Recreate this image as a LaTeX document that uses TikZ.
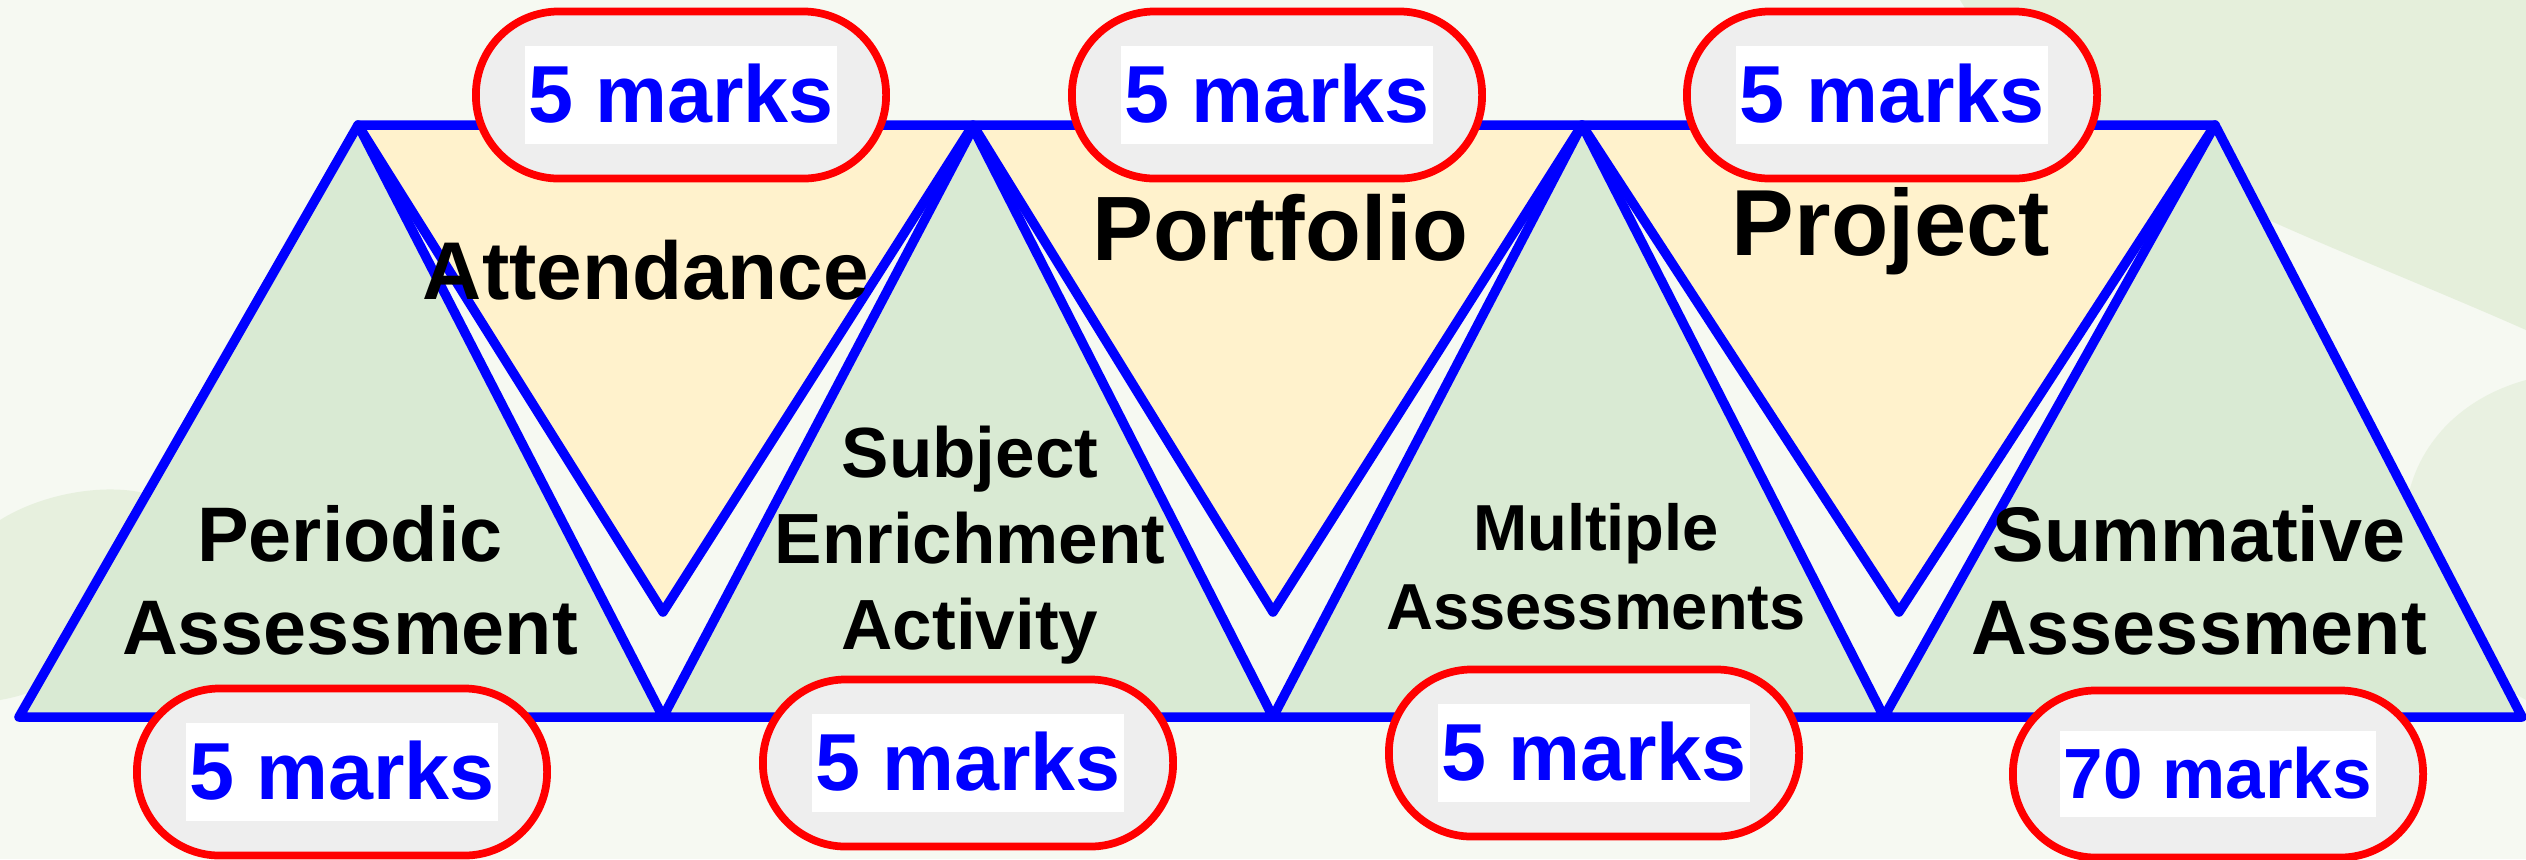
\documentclass[tikz,border=0pt]{standalone}
\usepackage{fontspec}
\setmainfont{Liberation Sans}
\usepackage{xcolor}
\usepackage{tikz}
\usetikzlibrary{calc}
\usetikzlibrary{positioning}

\definecolor{leafgreen}{HTML}{D9EAD3}
\definecolor{paleyellow}{HTML}{FFF2CC}
\definecolor{pillgray}{HTML}{EEEEEE}
\definecolor{bgwash}{HTML}{F6F9F2}
\definecolor{leafwash}{HTML}{E1EDD6}

\tikzset{
 uptri/.style={draw=blue, fill=leafgreen, line width=2.7pt, line join=round},
 downtri/.style={draw=blue, fill=paleyellow, line width=2.7pt, line join=round},
 markpill/.style={draw=red, fill=pillgray, line width=2.2pt, rounded corners=0.83cm,
   minimum width=4.1cm, minimum height=1.67cm, inner sep=0pt},
 part/.style={align=center, text=black}
}

\newcommand{\markbox}[2]{{\bfseries\fontsize{#1}{#1}\selectfont\setlength{\fboxsep}{1pt}%
 \colorbox{white}{\rule[-0.22em]{0pt}{1.12em}\textcolor{blue}{#2}}}}

\begin{document}
\begin{tikzpicture}[x=0.01cm, y=-0.01cm]
 \useasboundingbox (0,0) rectangle (2526,859);
 \fill [bgwash] (0,0) rectangle (2526,859);
 % faint leaves of the backdrop
 \fill [leafwash, opacity=0.8] (1960,0) .. controls (2050,150) and (2300,230) .. (2526,330) -- (2526,0) -- cycle;
 \fill [leafwash, opacity=0.6] (2526,380) .. controls (2380,420) and (2350,600) .. (2526,700) -- cycle;
 \fill [leafwash, opacity=0.7] (0,520) .. controls (80,470) and (220,480) .. (180,560) .. controls (140,640) and (60,690) .. (0,700) -- cycle;

 % corner points
 \coordinate (b0) at (19,717);
 \coordinate (b1) at (663,717);
 \coordinate (b2) at (1273,717);
 \coordinate (b3) at (1884,717);
 \coordinate (b4) at (2522,717);
 \coordinate (t1) at (358,125);
 \coordinate (t2) at (973,125);
 \coordinate (t3) at (1582,125);
 \coordinate (t4) at (2215,125);
 \coordinate (v1) at (663,612);
 \coordinate (v2) at (1273,612);
 \coordinate (v3) at (1899,612);

 % upward triangles
 \draw [uptri] (b0) -- (t1) -- (b1) -- cycle;
 \draw [uptri] (b1) -- ($(t2)+(0,3)$) -- (b2) -- cycle;
 \draw [uptri] (b2) -- (t3) -- (b3) -- cycle;
 \draw [uptri] (b3) -- (t4) -- (b4) -- cycle;

 % downward triangles
 \draw [downtri] (t1) -- (t2) -- (v1) -- cycle;
 \draw [downtri] (t2) -- (t3) -- (v2) -- cycle;
 \draw [downtri] (t3) -- (t4) -- (v3) -- cycle;

 % texts
 \node [part, anchor=base, font=\bfseries\fontsize{23.3}{28}\selectfont] (attend) at (646,299) {Attendance};
 \node [part, anchor=base, font=\bfseries\fontsize{26}{31}\selectfont] (portf) at (1280,260) {Portfolio};
 \node [part, anchor=base, font=\bfseries\fontsize{26.7}{32}\selectfont] (proj) at (1891,255) {Project};
 \node [part, font=\bfseries\fontsize{22}{26.5}\selectfont] (periodic) at (350,580) {Periodic\\Assessment};
 \node [part, font=\bfseries\fontsize{20.2}{24.5}\selectfont] (subject) at (970,545) {Subject\\Enrichment\\Activity};
 \node [part, font=\bfseries\fontsize{18.5}{22.4}\selectfont] (multi) at (1596,567) {Multiple\\Assessments};
 \node [part, font=\bfseries\fontsize{22}{26.5}\selectfont] (summ) at (2199,580) {Summative\\Assessment};

 % marks
 \node [markpill] (mtop1) at (681,95) {\markbox{23}{5 marks}};
 \node [markpill] (mtop2) at (1277,95) {\markbox{23}{5 marks}};
 \node [markpill] (mtop3) at (1892,95) {\markbox{23}{5 marks}};
 \node [markpill] (mbot1) at (342,772) {\markbox{23}{5 marks}};
 \node [markpill] (mbot2) at (968,763) {\markbox{23}{5 marks}};
 \node [markpill] (mbot3) at (1594,753) {\markbox{23}{5 marks}};
 \node [markpill] (mbot4) at (2218,774) {\markbox{20.2}{70 marks}};
\end{tikzpicture}
\end{document}
